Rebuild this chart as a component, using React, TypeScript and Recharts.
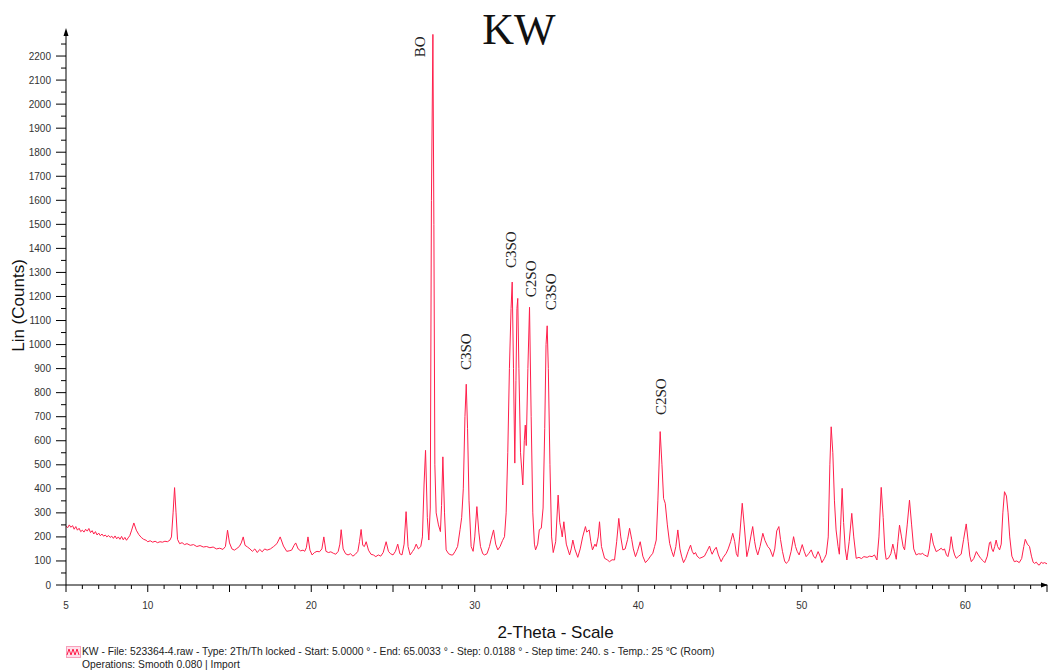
import React from 'react';
import { LineChart, Line, XAxis, YAxis, Legend, ReferenceDot } from 'recharts';

// 2-Theta positions (degrees)
const twoTheta: number[] = [
  5.0, 5.1, 5.2, 5.3, 5.4, 5.5, 5.6, 5.7, 5.8, 5.9, 6.0, 6.1, 6.2, 6.3, 6.4, 6.5, 6.6, 6.7, 6.8, 6.9,
  7.0, 7.1, 7.2, 7.3, 7.4, 7.5, 7.6, 7.7, 7.8, 7.9, 8.0, 8.1, 8.2, 8.3, 8.4, 8.5, 8.6, 8.7, 8.8, 8.9,
  9.0, 9.15, 9.3, 9.45, 9.6, 9.75, 9.9, 10.0, 10.15, 10.3, 10.45, 10.6, 10.75, 10.9, 11.05, 11.2, 11.35, 11.45, 11.55, 11.64,
  11.73, 11.82, 11.95, 12.1, 12.25, 12.4, 12.6, 12.8, 13.0, 13.2, 13.4, 13.6, 13.8, 14.0, 14.2, 14.4, 14.6, 14.75, 14.88, 15.0,
  15.15, 15.3, 15.45, 15.6, 15.72, 15.84, 15.95, 16.1, 16.25, 16.4, 16.55, 16.7, 16.85, 17.0, 17.15, 17.3, 17.5, 17.7, 17.9, 18.1,
  18.3, 18.5, 18.65, 18.8, 18.95, 19.05, 19.2, 19.35, 19.5, 19.6, 19.7, 19.8, 19.92, 20.05, 20.2, 20.35, 20.5, 20.65, 20.77, 20.9,
  21.05, 21.2, 21.35, 21.5, 21.65, 21.75, 21.83, 21.95, 22.1, 22.25, 22.4, 22.55, 22.7, 22.85, 22.95, 23.05, 23.15, 23.25, 23.36, 23.5,
  23.65, 23.8, 23.95, 24.1, 24.25, 24.4, 24.58, 24.72, 24.85, 25.0, 25.15, 25.29, 25.42, 25.55, 25.68, 25.8, 25.92, 26.05, 26.2, 26.3,
  26.42, 26.55, 26.7, 26.8, 26.9, 26.99, 27.1, 27.19, 27.28, 27.35, 27.44, 27.5, 27.56, 27.64, 27.78, 27.9, 27.97, 28.05, 28.15, 28.25,
  28.4, 28.55, 28.66, 28.8, 28.95, 29.1, 29.2, 29.3, 29.4, 29.48, 29.56, 29.65, 29.78, 29.9, 30.0, 30.13, 30.25, 30.35, 30.49, 30.6,
  30.75, 30.9, 31.0, 31.15, 31.28, 31.41, 31.55, 31.7, 31.82, 31.92, 32.02, 32.12, 32.22, 32.29, 32.37, 32.45, 32.52, 32.58, 32.63, 32.7,
  32.8, 32.94, 33.03, 33.09, 33.15, 33.25, 33.35, 33.45, 33.55, 33.65, 33.72, 33.85, 33.95, 34.07, 34.18, 34.28, 34.36, 34.43, 34.5, 34.6,
  34.7, 34.8, 34.95, 35.1, 35.2, 35.29, 35.35, 35.45, 35.6, 35.8, 35.9, 36.0, 36.12, 36.3, 36.45, 36.6, 36.77, 36.85, 37.0, 37.1,
  37.2, 37.35, 37.43, 37.55, 37.63, 37.75, 37.94, 38.1, 38.24, 38.4, 38.55, 38.68, 38.81, 38.93, 39.06, 39.2, 39.35, 39.47, 39.6, 39.7,
  39.83, 39.95, 40.12, 40.28, 40.44, 40.6, 40.75, 40.89, 41.0, 41.1, 41.2, 41.34, 41.45, 41.55, 41.65, 41.78, 41.92, 42.05, 42.16, 42.3,
  42.42, 42.55, 42.65, 42.77, 42.9, 43.05, 43.2, 43.3, 43.4, 43.5, 43.6, 43.75, 43.9, 44.05, 44.2, 44.36, 44.45, 44.52, 44.64, 44.77,
  44.9, 45.07, 45.2, 45.38, 45.5, 45.65, 45.78, 45.9, 46.0, 46.09, 46.2, 46.36, 46.48, 46.64, 46.75, 46.88, 47.0, 47.12, 47.2, 47.31,
  47.45, 47.62, 47.75, 47.92, 48.05, 48.23, 48.35, 48.47, 48.6, 48.7, 48.82, 48.95, 49.05, 49.2, 49.35, 49.5, 49.62, 49.72, 49.84, 50.03,
  50.15, 50.27, 50.42, 50.58, 50.72, 50.84, 51.0, 51.12, 51.23, 51.38, 51.5, 51.62, 51.72, 51.8, 51.9, 52.0, 52.1, 52.22, 52.3, 52.38,
  52.47, 52.56, 52.66, 52.76, 52.9, 53.06, 53.18, 53.33, 53.5, 53.65, 53.8, 54.0, 54.15, 54.3, 54.45, 54.6, 54.72, 54.86, 54.98, 55.08,
  55.16, 55.3, 55.45, 55.57, 55.67, 55.78, 55.88, 55.98, 56.1, 56.2, 56.29, 56.45, 56.59, 56.72, 56.85, 57.0, 57.15, 57.3, 57.37, 57.5,
  57.7, 57.8, 57.92, 58.05, 58.22, 58.38, 58.53, 58.63, 58.73, 58.85, 58.94, 59.05, 59.14, 59.25, 59.35, 59.45, 59.6, 59.75, 59.9, 60.06,
  60.18, 60.28, 60.37, 60.52, 60.68, 60.8, 60.95, 61.1, 61.2, 61.35, 61.48, 61.55, 61.63, 61.71, 61.8, 61.89, 61.98, 62.1, 62.2, 62.3,
  62.4, 62.52, 62.62, 62.72, 62.85, 63.0, 63.15, 63.3, 63.45, 63.58, 63.67, 63.8, 63.93, 64.05, 64.15, 64.23, 64.35, 64.45, 64.53, 64.65,
  64.75, 64.85, 65.0,
];

// Lin (Counts) at each position
const counts: number[] = [
  245, 238, 250, 240, 247, 232, 243, 228, 236, 222, 228, 220, 232, 224, 235, 218, 226, 212, 222, 208,
  216, 205, 212, 203, 208, 200, 206, 198, 203, 194, 204, 192, 200, 190, 202, 188, 198, 186, 196, 205,
  225, 258, 228, 210, 198, 190, 186, 180, 184, 178, 182, 176, 180, 178, 182, 180, 186, 200, 300, 405,
  300, 190, 172, 176, 168, 172, 165, 168, 160, 164, 158, 160, 155, 158, 150, 153, 148, 160, 228, 175,
  150, 145, 152, 160, 175, 200, 165, 158, 150, 140, 150, 135, 148, 138, 150, 145, 150, 160, 172, 200,
  162, 140, 142, 145, 165, 175, 150, 142, 145, 140, 155, 200, 145, 125, 135, 140, 138, 150, 200, 140,
  135, 138, 132, 128, 140, 170, 230, 150, 130, 125, 130, 120, 128, 140, 180, 231, 165, 160, 180, 145,
  128, 125, 118, 125, 120, 135, 180, 140, 130, 125, 140, 170, 130, 125, 170, 305, 160, 125, 140, 150,
  170, 150, 160, 200, 420, 560, 280, 187, 320, 1600, 2290, 1500, 500, 300, 250, 222, 330, 533, 300, 146,
  130, 125, 125, 140, 160, 230, 280, 400, 700, 835, 650, 350, 160, 140, 200, 326, 220, 160, 130, 125,
  130, 160, 190, 229, 170, 146, 160, 185, 201, 300, 550, 900, 1150, 1260, 900, 507, 850, 1150, 1192, 900,
  550, 416, 600, 665, 580, 900, 1155, 700, 300, 170, 146, 170, 230, 236, 320, 650, 1000, 1078, 900, 500,
  200, 135, 180, 374, 260, 229, 200, 263, 170, 125, 150, 187, 150, 115, 150, 200, 243, 220, 229, 180,
  146, 170, 160, 200, 263, 160, 111, 105, 97, 105, 104, 180, 277, 200, 146, 150, 190, 236, 190, 150,
  118, 140, 180, 120, 93, 105, 120, 132, 160, 187, 350, 638, 500, 360, 340, 250, 173, 140, 118, 160,
  229, 150, 120, 93, 110, 140, 166, 140, 128, 135, 120, 111, 115, 120, 140, 162, 140, 128, 145, 157,
  125, 97, 115, 132, 150, 180, 215, 180, 130, 118, 200, 340, 250, 118, 150, 200, 243, 180, 150, 125,
  160, 215, 185, 160, 150, 118, 150, 225, 243, 190, 140, 100, 90, 100, 140, 201, 160, 140, 125, 168,
  140, 118, 130, 146, 120, 111, 139, 120, 93, 110, 128, 200, 500, 658, 550, 350, 229, 160, 128, 250,
  402, 260, 150, 104, 180, 298, 200, 111, 115, 110, 118, 115, 120, 118, 125, 104, 200, 406, 280, 150,
  107, 111, 130, 170, 140, 107, 180, 249, 200, 160, 146, 250, 353, 250, 150, 125, 130, 128, 132, 125,
  118, 150, 215, 170, 139, 145, 153, 145, 150, 125, 118, 150, 201, 150, 125, 111, 120, 128, 190, 254,
  180, 120, 97, 110, 139, 125, 110, 100, 93, 120, 175, 180, 150, 139, 160, 187, 160, 146, 170, 300,
  388, 370, 300, 200, 120, 97, 100, 93, 110, 160, 190, 170, 160, 120, 95, 90, 95, 85, 83, 95,
  90, 93, 88,
];

const xTicks: number[] = [];
for (let t = 5; t <= 65; t += 1) xTicks.push(t);
const xLabelled: number[] = [5, 10, 20, 30, 40, 50, 60];

const yTicks: number[] = [];
for (let t = 0; t <= 2250; t += 50) yTicks.push(t);

const xMin = 5;
const xMax = 65;
const yMax = 2300;

// phase annotations: text, 2-theta, count level where the text ends
const phaseNames: string[] = ['BO', 'C3SO', 'C3SO', 'C2SO', 'C3SO', 'C2SO'];
const phaseTheta: number[] = [26.62, 29.43, 32.22, 33.44, 34.66, 41.36];
const phaseLevel: number[] = [2195, 894, 1318, 1197, 1143, 707];

const title = 'KW';
const xTitle = '2-Theta - Scale';
const yTitle = 'Lin (Counts)';
const footLine1 =
  'KW - File: 523364-4.raw - Type: 2Th/Th locked - Start: 5.0000 ° - End: 65.0033 ° - Step: 0.0188 ° - Step time: 240. s - Temp.: 25 °C (Room)';
const footLine2 = 'Operations: Smooth 0.080 | Import';

const data = twoTheta.map((x, i) => ({ x, y: counts[i] }));

const SANS = '"Liberation Sans", Arial, sans-serif';
const SERIF = '"Liberation Serif", "Times New Roman", serif';
const LINE_COLOR = '#ff1f4b';

const XTick = (props: any) => {
  const { x, y, payload } = props;
  const v = payload.value as number;
  const major = v % 5 === 0;
  return (
    <g>
      <line x1={x} x2={x} y1={y} y2={y + (major ? 7 : 4)} stroke="#000" strokeWidth={1} />
      {xLabelled.includes(v) && (
        <text x={x} y={y + 24} textAnchor="middle" fontSize={10} fill="#333" fontFamily={SANS}>
          {v}
        </text>
      )}
    </g>
  );
};

const YTick = (props: any) => {
  const { x, y, payload } = props;
  const v = payload.value as number;
  const major = v % 100 === 0;
  return (
    <g>
      <line x1={x - (major ? 10 : 5)} x2={x} y1={y} y2={y} stroke="#000" strokeWidth={1} />
      {major && (
        <text x={x - 15} y={y} dy="0.35em" textAnchor="end" fontSize={10} fill="#333" fontFamily={SANS}>
          {v}
        </text>
      )}
    </g>
  );
};

const PhaseLabel = (text: string) => (props: any) => {
  const { cx, cy } = props;
  if (cx == null || cy == null) return <g />;
  return (
    <text
      x={cx}
      y={cy}
      dy="0.35em"
      textAnchor="start"
      fontSize={15}
      fill="#222"
      fontFamily={SERIF}
      transform={`rotate(-90, ${cx}, ${cy})`}
    >
      {text}
    </text>
  );
};

const UpArrow = (props: any) => {
  const { cx, cy } = props;
  if (cx == null || cy == null) return <g />;
  return <path d={`M${cx},${cy - 4} L${cx + 2.5},${cy + 4} L${cx - 2.5},${cy + 4} Z`} fill="#000" />;
};

const RightArrow = (props: any) => {
  const { cx, cy } = props;
  if (cx == null || cy == null) return <g />;
  return <path d={`M${cx + 1},${cy} L${cx - 6},${cy - 2.5} L${cx - 6},${cy + 2.5} Z`} fill="#000" />;
};

const Footer = () => (
  <div style={{ fontFamily: SANS, fontSize: 10.3, color: '#222', lineHeight: '13px', whiteSpace: 'nowrap' }}>
    <div style={{ display: 'flex', alignItems: 'center' }}>
      <svg width={15} height={12} style={{ marginRight: 1 }}>
        <rect x={0.5} y={0.5} width={14} height={11} fill="#fde0ea" stroke="#f7a0bb" />
        <polyline points="1,9 3,3 5,9 7,3 9,9 11,3 13,9" fill="none" stroke={LINE_COLOR} strokeWidth={1} />
      </svg>
      <span>{footLine1}</span>
    </div>
    <div style={{ paddingLeft: 16 }}>{footLine2}</div>
  </div>
);

export default function App() {
  return (
    <div style={{ position: 'absolute', left: 0, top: 0, width: 1048, height: 672, background: '#fff' }}>
      <LineChart
        width={1048}
        height={672}
        data={data}
        margin={{ top: 32, right: 1, bottom: 57, left: 0 }}
      >
        <text x={519} y={44} textAnchor="middle" fontSize={44} fontFamily={SERIF} fill="#111">
          {title}
        </text>
        <XAxis
          dataKey="x"
          type="number"
          domain={[xMin, xMax]}
          ticks={xTicks}
          interval={0}
          height={30}
          tickSize={0}
          tickMargin={0}
          tickLine={false}
          axisLine={{ stroke: '#000', strokeWidth: 1 }}
          tick={<XTick />}
          allowDataOverflow
          label={(p: any) => {
            const vb = p.viewBox || {};
            return (
              <text
                x={(vb.x ?? 66) + (vb.width ?? 981) / 2 - 1}
                y={(vb.y ?? 585) + 53}
                textAnchor="middle"
                fontSize={17}
                fontFamily={SANS}
                fill="#111"
              >
                {xTitle}
              </text>
            );
          }}
        />
        <YAxis
          type="number"
          domain={[0, yMax]}
          ticks={yTicks}
          interval={0}
          width={66}
          tickSize={0}
          tickMargin={0}
          tickLine={false}
          axisLine={{ stroke: '#000', strokeWidth: 1 }}
          tick={<YTick />}
          allowDataOverflow
          label={(p: any) => {
            const vb = p.viewBox || {};
            const cx = 24;
            const cy = (vb.y ?? 32) + (vb.height ?? 553) / 2 - 3;
            return (
              <text
                x={cx}
                y={cy}
                textAnchor="middle"
                fontSize={17}
                fontFamily={SANS}
                fill="#111"
                transform={`rotate(-90, ${cx}, ${cy})`}
              >
                {yTitle}
              </text>
            );
          }}
        />
        <Line
          type="linear"
          dataKey="y"
          stroke={LINE_COLOR}
          strokeWidth={1}
          dot={false}
          activeDot={false}
          isAnimationActive={false}
        />
        {phaseNames.map((name, i) => (
          <ReferenceDot
            key={i}
            x={phaseTheta[i]}
            y={phaseLevel[i]}
            r={1}
            ifOverflow="visible"
            shape={PhaseLabel(name)}
          />
        ))}
        <ReferenceDot x={xMin} y={yMax} r={1} ifOverflow="visible" shape={UpArrow} />
        <ReferenceDot x={xMax} y={0} r={1} ifOverflow="visible" shape={RightArrow} />
        <Legend
          layout="horizontal"
          verticalAlign="middle"
          align="center"
          wrapperStyle={{ left: 66, top: 645, width: 900, height: 27 }}
          content={() => <Footer />}
        />
      </LineChart>
    </div>
  );
}
